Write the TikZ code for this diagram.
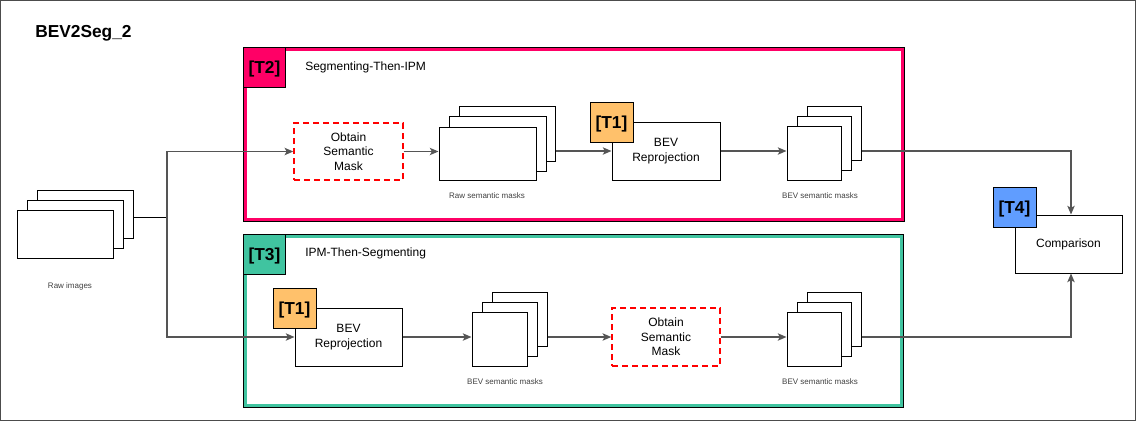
\documentclass[tikz,border=0pt]{standalone}
\usepackage{fontspec}
\setmainfont{Liberation Sans}
\usetikzlibrary{arrows.meta,fit}
\definecolor{tpink}{RGB}{255,0,102}
\definecolor{tteal}{RGB}{64,196,160}
\definecolor{torange}{RGB}{255,193,107}
\definecolor{tblue}{RGB}{96,157,255}
\definecolor{tline}{RGB}{85,85,85}
\definecolor{tred}{RGB}{255,0,0}
\begin{document}
\begin{tikzpicture}[x=0.75pt,y=-0.75pt,
  box/.style={draw=black, fill=white, inner sep=0pt, line width=0.75pt, align=center,
    font=\fontsize{9}{10.8}\selectfont},
  dbox/.style={box, draw=tred, line width=1.1pt, dash pattern=on 4.5pt off 3pt},
  sheet/.style={draw=black, fill=white, inner sep=0pt, line width=0.75pt},
  tag/.style={draw=black, line width=0.75pt, inner sep=0pt, font=\fontsize{13}{15}\selectfont\bfseries},
  smallcap/.style={font=\fontsize{6}{7}\selectfont, text=black!75, inner sep=0pt},
  ttl/.style={font=\fontsize{9}{10.8}\selectfont, inner sep=0pt, anchor=west},
  conn/.style={draw=tline, line width=0.9pt, -{Stealth[length=6.5pt,width=5.5pt,inset=1.5pt]}},
  seg/.style={draw=black, line width=0.75pt}]
\useasboundingbox (0,0) rectangle (1136,421);
\draw[black!70, line width=0.75pt] (0.5,0.5) rectangle (1135.5,420.5);

\node[font=\fontsize{13}{15}\selectfont\bfseries, anchor=west, inner sep=0pt] (title) at (35,33) {BEV2Seg\_2};

% frames
\draw[tpink, line width=2.25pt] (245.5,49.5) rectangle (902.5,219.5);
\draw[black, line width=0.75pt] (243.5,47.5) rectangle (904.5,221.5);
\node[inner sep=0pt, fit={(243,47)(905,222)}] (frame2) {};
\draw[tteal, line width=2.25pt] (245.5,236.5) rectangle (901.5,405.5);
\draw[black, line width=0.75pt] (243.5,234.5) rectangle (903.5,407.5);
\node[inner sep=0pt, fit={(243,234)(903,408)}] (frame3) {};

\node[tag, fill=tpink, fit={(243.5,47.5)(285.5,87)}] (t2) {};
\node[font=\fontsize{13}{15}\selectfont\bfseries] at ([yshift=-1.5pt]t2.center) {[T2]};
\node[ttl] (s2) at (305,67) {Segmenting-Then-IPM};
\node[tag, fill=tteal, fit={(243.5,234.5)(285.5,274)}] (t3) {};
\node[font=\fontsize{13}{15}\selectfont\bfseries] at ([yshift=-1.5pt]t3.center) {[T3]};
\node[ttl] (s3) at (305,253) {IPM-Then-Segmenting};

% raw images
\node[sheet, fit={(37,190)(133,238)}] (imgB) {};
\node[sheet, fit={(27,200)(123,248)}] (imgM) {};
\node[sheet, fit={(17,210)(113,258)}] (imgF) {};
\node[smallcap] (imgL) at (70,286) {Raw images};

% top row
\node[dbox, fit={(294,123)(403,180)}] (obt1) {};
\node[align=center, font=\fontsize{9}{10.8}\selectfont] at (obt1.center) {Obtain\\Semantic\\Mask};
\node[sheet, fit={(459,106)(555,161)}] (rawB) {};
\node[sheet, fit={(449,116)(546,171)}] (rawM) {};
\node[sheet, fit={(439,127)(536,180)}] (rawF) {};
\node[smallcap] (rawL) at (487,196) {Raw semantic masks};

\node[box, fit={(612,122)(720,180)}] (rep1) {};
\node[align=center, font=\fontsize{9}{10.8}\selectfont] at (rep1.center) {BEV\\Reprojection};
\node[tag, fill=torange, fit={(590,102)(633,142)}] (t1a) {};
\node[font=\fontsize{13}{15}\selectfont\bfseries] at ([yshift=-1.5pt]t1a.center) {[T1]};

\node[sheet, fit={(807,106)(861,160)}] (bevAB) {};
\node[sheet, fit={(797,116)(851,170)}] (bevAM) {};
\node[sheet, fit={(787,126)(841,180)}] (bevAF) {};
\node[smallcap] (bevAL) at (820,196) {BEV semantic masks};

% bottom row
\node[box, fit={(295,308)(402,366)}] (rep2) {};
\node[align=center, font=\fontsize{9}{10.8}\selectfont] at (rep2.center) {BEV\\Reprojection};
\node[tag, fill=torange, fit={(273,288)(316,328)}] (t1b) {};
\node[font=\fontsize{13}{15}\selectfont\bfseries] at ([yshift=-1.5pt]t1b.center) {[T1]};

\node[sheet, fit={(492,292)(547,346)}] (bevBB) {};
\node[sheet, fit={(482,302)(537,356)}] (bevBM) {};
\node[sheet, fit={(472,312)(527,366)}] (bevBF) {};
\node[smallcap] (bevBL) at (505,382) {BEV semantic masks};

\node[dbox, fit={(612,308)(720,366)}] (obt2) {};
\node[align=center, font=\fontsize{9}{10.8}\selectfont] at (obt2.center) {Obtain\\Semantic\\Mask};

\node[sheet, fit={(807,292)(861,346)}] (bevCB) {};
\node[sheet, fit={(797,302)(851,356)}] (bevCM) {};
\node[sheet, fit={(787,312)(841,366)}] (bevCF) {};
\node[smallcap] (bevCL) at (820,382) {BEV semantic masks};

% comparison
\node[box, fit={(1015,215)(1122,273)}] (comp) {};
\node[font=\fontsize{9}{10.8}\selectfont] at (comp.center) {Comparison};
\node[tag, fill=tblue, fit={(993,187)(1036,227)}] (t4) {};
\node[font=\fontsize{13}{15}\selectfont\bfseries] at ([yshift=-1.5pt]t4.center) {[T4]};

% connectors
\coordinate (j) at (167,217);
\coordinate (cx) at (1071,0);
\draw[seg] (imgB.east |- j) -- (j);
\draw[conn] (j) |- (obt1.west);
\draw[conn] (j) |- (rep2.west);
\draw[conn] (obt1.east) -- (rawF.west |- obt1.east);
\draw[conn] (rawB.east |- rep1.west) -- (rep1.west);
\draw[conn] (rep1.east) -- (bevAF.west |- rep1.east);
\draw[conn] (rep2.east) -- (bevBF.west |- rep2.east);
\draw[conn] (bevBB.east |- obt2.west) -- (obt2.west);
\draw[conn] (obt2.east) -- (bevCF.west |- obt2.east);
\draw[conn] (bevAB.east |- rep1.east) -| (cx |- comp.north);
\draw[conn] (bevCB.east |- obt2.east) -| (cx |- comp.south);
\end{tikzpicture}
\end{document}
